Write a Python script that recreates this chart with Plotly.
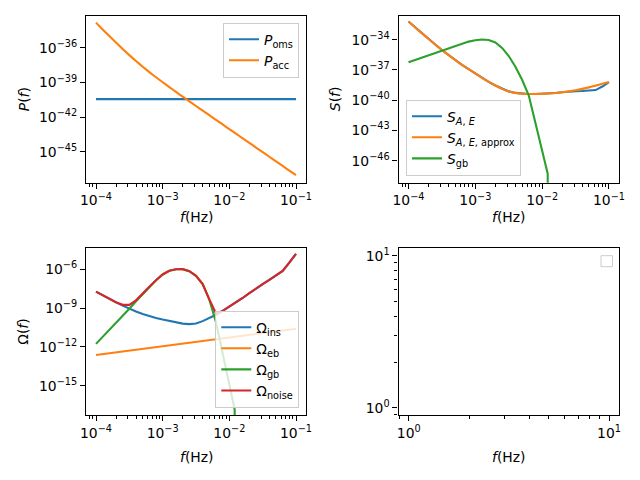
import numpy as np
import plotly.graph_objects as go

# ---------------- data (log10 values) ----------------
log_f = [-4.0, -3.9, -3.8, -3.7, -3.6, -3.5, -3.4, -3.3, -3.2, -3.1, -3.0,
         -2.9, -2.8, -2.7, -2.6, -2.5, -2.4, -2.3, -2.2, -2.1, -2.0,
         -1.9, -1.8, -1.7, -1.6, -1.5, -1.4, -1.3, -1.2, -1.1, -1.0]

log_f_oms = [-4.0, -1.0]
log_P_oms = [-40.43, -40.43]

log_P_acc = [-33.80, -34.39, -34.97, -35.53, -36.09, -36.62, -37.13, -37.62, -38.09, -38.54, -38.97,
             -39.39, -39.81, -40.22, -40.62, -41.03, -41.43, -41.83, -42.23, -42.63, -43.03,
             -43.43, -43.83, -44.23, -44.63, -45.03, -45.43, -45.83, -46.23, -46.63, -47.03]

log_S_AE = [-32.20, -32.79, -33.37, -33.93, -34.48, -35.02, -35.53, -36.02, -36.49, -36.93, -37.36,
            -37.78, -38.18, -38.55, -38.88, -39.13, -39.28, -39.36, -39.39, -39.39, -39.37,
            -39.34, -39.29, -39.22, -39.15, -39.12, -39.09, -39.05, -39.00, -38.65, -38.22]

log_S_AE_approx = [-32.20, -32.79, -33.37, -33.93, -34.48, -35.02, -35.53, -36.02, -36.49, -36.93, -37.36,
                   -37.78, -38.18, -38.55, -38.88, -39.13, -39.28, -39.36, -39.39, -39.39, -39.37,
                   -39.34, -39.29, -39.22, -39.13, -39.02, -38.88, -38.73, -38.56, -38.38, -38.20]

log_f_gb = [-4.0, -3.9, -3.8, -3.7, -3.6, -3.5, -3.4, -3.3, -3.2, -3.1, -3.0,
            -2.9, -2.8, -2.7, -2.6, -2.5, -2.4, -2.3, -2.2, -2.1, -2.0,
            -1.95, -1.917, -1.916]
log_S_gb = [-36.24, -36.01, -35.78, -35.54, -35.30, -35.06, -34.82, -34.59, -34.38, -34.19, -34.05,
            -33.98, -34.03, -34.28, -34.82, -35.62, -36.68, -37.98, -39.55, -42.30, -44.90,
            -46.30, -47.30, -300.0]

log_Omega_ins = [-7.73, -8.02, -8.30, -8.56, -8.81, -9.05, -9.26, -9.45, -9.62, -9.76, -9.89,
                 -10.01, -10.11, -10.20, -10.24, -10.19, -10.01, -9.79, -9.52, -9.22, -8.90,
                 -8.57, -8.22, -7.85, -7.48, -7.15, -6.82, -6.48, -6.13, -5.48, -4.80]

log_f_eb = [-4.0, -1.0]
log_Omega_eb = [-12.63, -10.60]

log_f_gb_omega = [-4.0, -3.9, -3.8, -3.7, -3.6, -3.5, -3.4, -3.3, -3.2, -3.1, -3.0,
                  -2.9, -2.8, -2.7, -2.6, -2.5, -2.4, -2.3, -2.2, -2.1, -2.0,
                  -1.95, -1.92, -1.919]
log_Omega_gb = [-11.77, -11.24, -10.71, -10.17, -9.63, -9.05, -8.47, -7.92, -7.35, -6.85, -6.40,
                -6.12, -6.00, -5.99, -6.15, -6.50, -7.15, -8.35, -10.10, -12.50, -14.95,
                -16.15, -16.85, -300.0]

log_Omega_noise = [-7.73, -8.02, -8.29, -8.55, -8.75, -8.75, -8.40, -7.91, -7.35, -6.85, -6.40,
                   -6.12, -6.00, -5.99, -6.15, -6.50, -7.15, -8.33, -9.42, -9.22, -8.90,
                   -8.57, -8.22, -7.85, -7.48, -7.15, -6.82, -6.48, -6.13, -5.48, -4.80]

# tick labels
x_tick_exp = [-4, -3, -2, -1]
P_tick_exp = [-36, -39, -42, -45]
S_tick_exp = [-34, -37, -40, -43, -46]
O_tick_exp = [-6, -9, -12, -15]
E_tick_exp = [0, 1]

# ---------------- styling ----------------
C_BLUE, C_ORANGE, C_GREEN, C_RED = "#1f77b4", "#ff7f0e", "#2ca02c", "#d62728"
FONT = "DejaVu Sans"
FS = 13.9
LW = 2.1


def pw(vals):
    return list(10.0 ** np.array(vals, dtype=float))


def sup_labels(exps):
    return ["10<sup>%s</sup>" % (str(e).replace("-", "\u2212")) for e in exps]


def minor_vals(lo, hi):
    out = []
    for d in range(lo, hi + 1):
        for m in range(2, 10):
            out.append(m * 10.0 ** d)
    return out


def log_axis(rng, exps, minors, domain, anchor):
    return dict(
        type="log", range=rng, domain=domain, anchor=anchor,
        tickmode="array", tickvals=[10.0 ** e for e in exps], ticktext=sup_labels(exps),
        ticks="outside", ticklen=5, tickwidth=1.1, tickcolor="black",
        minor=dict(tickmode="array", tickvals=minors, ticks="outside", ticklen=3,
                   tickwidth=0.8, tickcolor="black", showgrid=False),
        showline=True, linecolor="black", linewidth=1.1, mirror=True,
        showgrid=False, zeroline=False, automargin=False,
        tickfont=dict(family=FONT, size=FS, color="black"),
    )


X1 = [86 / 640, 306 / 640]
X2 = [398.5 / 640, 619 / 640]
YT = [1 - 182.7 / 480, 1 - 15.7 / 480]
YB = [1 - 415 / 480, 1 - 248.3 / 480]
XR = [-4.15, -0.85]

fig = go.Figure()


def line(xlog, ylog, name, color, xa, ya, leg, smooth=False):
    ln = dict(color=color, width=LW)
    if smooth:
        ln.update(shape="spline", smoothing=0.6)
    fig.add_trace(go.Scatter(x=pw(xlog), y=pw(ylog), mode="lines", name=name,
                             line=ln, xaxis=xa, yaxis=ya, legend=leg))


line(log_f_oms, log_P_oms, "<i>P</i><sub>oms</sub>", C_BLUE, "x", "y", "legend")
line(log_f, log_P_acc, "<i>P</i><sub>acc</sub>", C_ORANGE, "x", "y", "legend", True)

line(log_f, log_S_AE, "<i>S</i><sub><i>A</i>, <i>E</i></sub>", C_BLUE, "x2", "y2", "legend2")
line(log_f, log_S_AE_approx, "<i>S</i><sub><i>A</i>, <i>E</i>, approx</sub>", C_ORANGE, "x2", "y2", "legend2", True)
line(log_f_gb, log_S_gb, "<i>S</i><sub>gb</sub>", C_GREEN, "x2", "y2", "legend2")

line(log_f, log_Omega_ins, "\u03a9<sub>ins</sub>", C_BLUE, "x3", "y3", "legend3")
line(log_f_eb, log_Omega_eb, "\u03a9<sub>eb</sub>", C_ORANGE, "x3", "y3", "legend3")
line(log_f_gb_omega, log_Omega_gb, "\u03a9<sub>gb</sub>", C_GREEN, "x3", "y3", "legend3")
line(log_f, log_Omega_noise, "\u03a9<sub>noise</sub>", C_RED, "x3", "y3", "legend3")

fig.add_trace(go.Scatter(x=[], y=[], mode="lines", xaxis="x4", yaxis="y4", showlegend=False))

leg_common = dict(bgcolor="rgba(255,255,255,0.8)", bordercolor="#cccccc", borderwidth=1,
                  font=dict(family=FONT, size=FS, color="black"), itemwidth=30,
                  tracegroupgap=0)

fig.update_layout(
    width=640, height=480, margin=dict(l=0, r=0, t=0, b=0),
    template="none", paper_bgcolor="white", plot_bgcolor="white",
    font=dict(family=FONT, size=FS, color="black"),
    xaxis=log_axis(XR, x_tick_exp, minor_vals(-5, -2), X1, "y"),
    yaxis=log_axis([-47.68, -33.2], P_tick_exp, [], YT, "x"),
    xaxis2=log_axis(XR, x_tick_exp, minor_vals(-5, -2), X2, "y2"),
    yaxis2=log_axis([-48.19, -31.62], S_tick_exp, [], YT, "x2"),
    xaxis3=log_axis(XR, x_tick_exp, minor_vals(-5, -2), X1, "y3"),
    yaxis3=log_axis([-17.27, -4.376], O_tick_exp, [], YB, "x3"),
    xaxis4=log_axis([-0.0513, 1.0498], E_tick_exp, minor_vals(-1, 0), X2, "y4"),
    yaxis4=log_axis([-0.048, 1.05], E_tick_exp, minor_vals(-1, 0), YB, "x4"),
    legend=dict(x=299 / 640, y=1 - 22.7 / 480, xanchor="right", yanchor="top", **leg_common),
    legend2=dict(x=406 / 640, y=1 - 175.7 / 480, xanchor="left", yanchor="bottom", **leg_common),
    legend3=dict(x=299.3 / 640, y=1 - 407.7 / 480, xanchor="right", yanchor="bottom", **leg_common),
    showlegend=True,
)

# empty legend frame in the fourth panel
fig.add_shape(type="rect", xref="paper", yref="paper",
              x0=601 / 640, x1=612.5 / 640, y0=1 - 266.7 / 480, y1=1 - 255.7 / 480,
              line=dict(color="#cccccc", width=1), fillcolor="rgba(255,255,255,0.8)")


# axis labels
def label(text, x, y, angle=0):
    fig.add_annotation(text=text, xref="paper", yref="paper", x=x / 640, y=1 - y / 480,
                       xanchor="center", yanchor="middle", showarrow=False, textangle=angle,
                       font=dict(family=FONT, size=FS, color="black"))


label("<i>f</i>(Hz)", 196, 216.7)
label("<i>f</i>(Hz)", 508.7, 216.7)
label("<i>f</i>(Hz)", 196, 456.7)
label("<i>f</i>(Hz)", 508.7, 456.7)
label("<i>P</i>(<i>f</i>)", 24, 99.2, -90)
label("<i>S</i>(<i>f</i>)", 335, 99.2, -90)
label("\u03a9(<i>f</i>)", 23, 331.7, -90)

fig.write_html("out.html")
